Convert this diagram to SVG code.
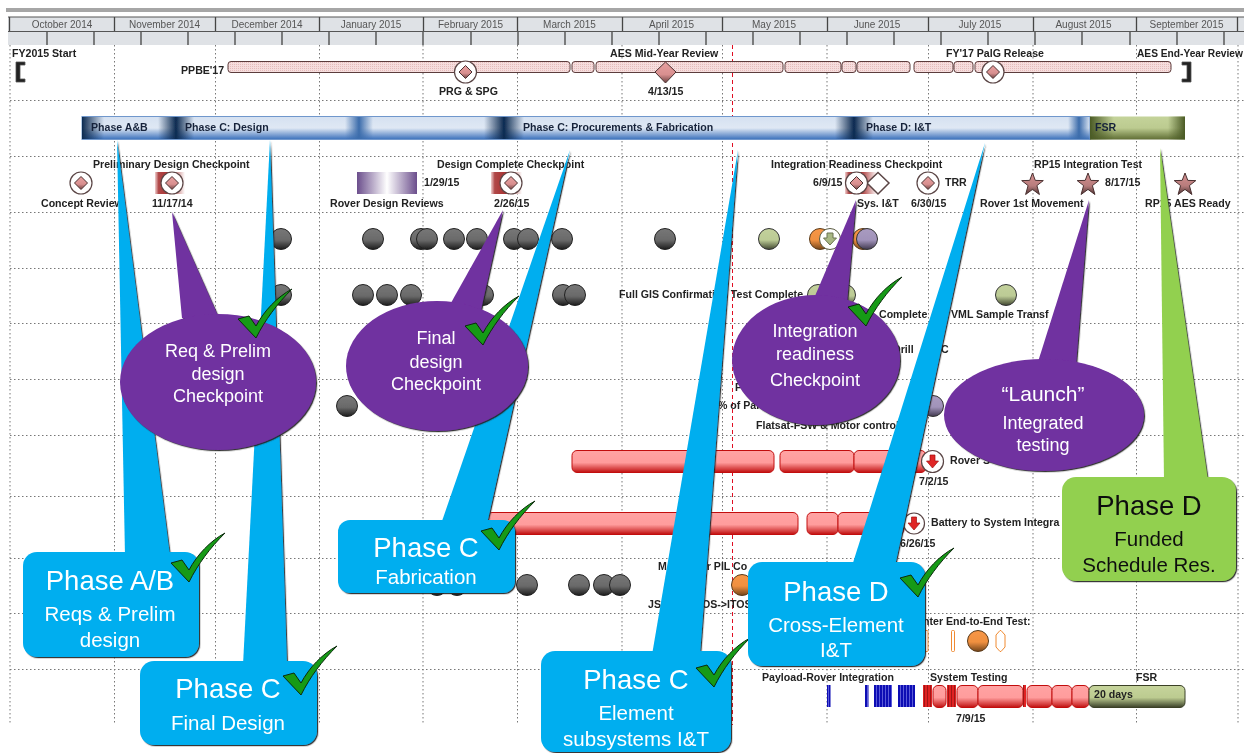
<svg xmlns="http://www.w3.org/2000/svg" width="1244" height="753" viewBox="0 0 1244 753">
<style>
text{font-family:"Liberation Sans",Arial,sans-serif}
.l{font-size:10.6px;font-weight:700;fill:#222}
.m{font-size:10px;fill:#555;text-anchor:middle}
.p{font-size:10.6px;font-weight:700;fill:#16233a}
.w{fill:#fff;text-anchor:middle}
.k{fill:#111;text-anchor:middle}
.t1{font-size:27.500px}
.t2{font-size:20.500px}
.t3{font-size:18px}
.grid{stroke:#777;stroke-width:1;stroke-dasharray:1.5 2.5;fill:none}
.blue{fill:#00aeef}
.pur{fill:#7030a0}
.grn{fill:#92d050}
.sh{filter:url(#sh)}
.red{fill:url(#gr);stroke:#c21010;stroke-width:1}
.chk{fill:#149a17;stroke:#0b2b0b;stroke-width:1}
.ds{fill:url(#gd);stroke:#4a3030;stroke-width:1}
.ring{fill:#fff;stroke:#5a4545;stroke-width:1.2}
.ppb{fill:url(#pp);stroke:#5c3c3c;stroke-width:1}
.star{fill:url(#gs);stroke:#4a3030;stroke-width:1}
</style>
<defs>
<filter id="soft" x="0" y="0" width="100%" height="100%"><feGaussianBlur stdDeviation="0.35"/></filter>
<filter id="sh" x="-10%" y="-10%" width="125%" height="125%"><feDropShadow dx="1.2" dy="1.2" stdDeviation="0.5" flood-color="#222" flood-opacity="0.9"/></filter>
<linearGradient id="gg" x1="0" y1="0" x2="0" y2="1"><stop offset="0" stop-color="#777"/><stop offset=".55" stop-color="#6a6a6a"/><stop offset="1" stop-color="#1c1c1c"/></linearGradient>
<linearGradient id="gv" x1="0" y1="0" x2="0" y2="1"><stop offset="0" stop-color="#c3d19c"/><stop offset=".55" stop-color="#bccb95"/><stop offset="1" stop-color="#3f4630"/></linearGradient>
<linearGradient id="go" x1="0" y1="0" x2="0" y2="1"><stop offset="0" stop-color="#f79646"/><stop offset=".55" stop-color="#f09040"/><stop offset="1" stop-color="#74451c"/></linearGradient>
<linearGradient id="gp" x1="0" y1="0" x2="0" y2="1"><stop offset="0" stop-color="#a99bc0"/><stop offset=".55" stop-color="#a193ba"/><stop offset="1" stop-color="#40384e"/></linearGradient>
<linearGradient id="gr" x1="0" y1="0" x2="0" y2="1"><stop offset="0" stop-color="#ffa3a3"/><stop offset=".55" stop-color="#ff9c9c"/><stop offset="1" stop-color="#c01010"/></linearGradient>
<linearGradient id="gd" x1="0" y1="0" x2="0" y2="1"><stop offset="0" stop-color="#e8a0a0"/><stop offset=".6" stop-color="#d88f8f"/><stop offset="1" stop-color="#6a4040"/></linearGradient>
<linearGradient id="gs" x1="0" y1="0" x2="0" y2="1"><stop offset="0" stop-color="#d49090"/><stop offset=".6" stop-color="#b87c7c"/><stop offset="1" stop-color="#4c3232"/></linearGradient>
<linearGradient id="gb" x1="0" y1="0" x2="0" y2="1"><stop offset="0" stop-color="#d5e1f1"/><stop offset=".5" stop-color="#dfe8f4"/><stop offset="1" stop-color="#3a70bb"/></linearGradient>
<linearGradient id="gfsr" x1="0" y1="0" x2="0" y2="1"><stop offset="0" stop-color="#c4d39a"/><stop offset=".5" stop-color="#bccb90"/><stop offset="1" stop-color="#5f6e34"/></linearGradient>
<linearGradient id="g20" x1="0" y1="0" x2="0" y2="1"><stop offset="0" stop-color="#c6d49c"/><stop offset=".55" stop-color="#bccb90"/><stop offset="1" stop-color="#3a4028"/></linearGradient>
<linearGradient id="seam"><stop offset="0" stop-color="#0c2a50" stop-opacity="0"/><stop offset=".5" stop-color="#0c2a50"/><stop offset="1" stop-color="#0c2a50" stop-opacity="0"/></linearGradient>
<linearGradient id="seaml"><stop offset="0" stop-color="#3c6cab" stop-opacity="0"/><stop offset=".5" stop-color="#3c6cab"/><stop offset="1" stop-color="#3c6cab" stop-opacity="0"/></linearGradient>
<linearGradient id="start"><stop offset="0" stop-color="#0c2a50"/><stop offset="1" stop-color="#0c2a50" stop-opacity="0"/></linearGradient>
<linearGradient id="gfl"><stop offset="0" stop-color="#4a5a25"/><stop offset=".25" stop-color="#4a5a25" stop-opacity="0"/><stop offset=".82" stop-color="#4a5a25" stop-opacity="0"/><stop offset="1" stop-color="#4a5a25"/></linearGradient>
<linearGradient id="gpr"><stop offset="0" stop-color="#6b4e8c"/><stop offset=".5" stop-color="#fff"/><stop offset="1" stop-color="#6b4e8c"/></linearGradient>
<linearGradient id="grd"><stop offset="0" stop-color="#f0d0d0"/><stop offset=".12" stop-color="#b04848"/><stop offset=".5" stop-color="#a83030"/><stop offset="1" stop-color="#fff"/></linearGradient>
<pattern id="pp" width="2" height="2" patternUnits="userSpaceOnUse"><rect width="2" height="2" fill="#f6dede"/><rect width="1" height="1" fill="#e6bcbc"/></pattern>
<pattern id="bs" width="3" height="4" patternUnits="userSpaceOnUse"><rect width="3" height="4" fill="#0a0ab4"/><rect width="1" height="4" fill="#5a5ad8"/></pattern>
<pattern id="rs" width="3" height="4" patternUnits="userSpaceOnUse"><rect width="3" height="4" fill="#e02020"/><rect width="1" height="4" fill="#a01414"/></pattern>
<circle id="bg" r="10.5" fill="url(#gg)" stroke="#222"/>
<circle id="bv" r="10.5" fill="url(#gv)" stroke="#333"/>
<circle id="bo" r="10.5" fill="url(#go)" stroke="#5a3a1a"/>
<circle id="bp" r="10.5" fill="url(#gp)" stroke="#333"/>
<g id="cd"><circle r="11" class="ring"/><path d="M0-6.5 6.5 0 0 6.5-6.5 0Z" class="ds"/></g>
<path id="st" d="M0-11 2.8-3.6 10.8-3.4 4.4 1.6 6.9 10.5 0 5.4-6.9 10.5-4.4 1.6-10.8-3.4-2.8-3.6Z" class="star"/>
<path id="ck" d="M-17-19-6-22 1-12C9-27 22-41 37-49 22-34 10-18 1 0Z" class="chk"/>
</defs>

<g filter="url(#soft)">
<rect width="1244" height="753" fill="#fff"/>
<g id="header">
<rect x="6" y="8" width="1238" height="4" fill="#a6a6a6"/>
<rect x="8" y="17" width="1236" height="28" fill="#dfe2e6"/>
<path d="M8 17H1244M8 31.500H1244" stroke="#555" stroke-width="1" fill="none"/>
<path d="M9.500 17V31M114.500 17V31M215.500 17V31M319.500 17V31M423.500 17V31M517.500 17V31M622.500 17V31M722.500 17V31M827.500 17V31M928.500 17V31M1033.500 17V31M1136.500 17V31M1237.500 17V31" stroke="#444" stroke-width="1.300"/>
<path d="M47 32V45M94 32V45M141 32V45M188 32V45M235 32V45M282 32V45M329 32V45M376 32V45M423 32V45M471 32V45M518 32V45M565 32V45M612 32V45M659 32V45M706 32V45M753 32V45M800 32V45M847 32V45M894 32V45M941 32V45M988 32V45M1035 32V45M1082 32V45M1130 32V45M1177 32V45M1224 32V45" stroke="#444" stroke-width="1.300"/>
<text class="m" x="62" y="28">October 2014</text>
<text class="m" x="164.500" y="28">November 2014</text>
<text class="m" x="267" y="28">December 2014</text>
<text class="m" x="371" y="28">January 2015</text>
<text class="m" x="470.500" y="28">February 2015</text>
<text class="m" x="569.500" y="28">March 2015</text>
<text class="m" x="671.500" y="28">April 2015</text>
<text class="m" x="774" y="28">May 2015</text>
<text class="m" x="877" y="28">June 2015</text>
<text class="m" x="980" y="28">July 2015</text>
<text class="m" x="1083.500" y="28">August 2015</text>
<text class="m" x="1186.500" y="28">September 2015</text>
</g>
<g id="grid">
<path class="grid" d="M10 45V725M114.500 45V725M215.500 45V725M319.500 45V725M423 45V725M517.500 45V725M622 45V725M722.500 45V725M827 45V725M928.500 45V725M1033 45V725M1136.500 45V725M1238 45V725"/>
<path class="grid" d="M10 100.500H1244M10 156.500H1244M10 212.500H1244M10 268.500H1244M10 323.500H1244M10 379.500H1244M10 435.500H1244M10 496.500H1244M10 558.500H1244M10 613.500H1244M10 669.500H1244"/>
<path d="M732.500 45V725" stroke="#e01020" stroke-width="1" stroke-dasharray="4 3" fill="none"/>
</g>

<g id="track-top">
<path d="M25 62H16V82H25V79H20V65H25Z" fill="#222" stroke="#555" stroke-width=".8"/>
<path d="M1182 62H1191V82H1182V79H1187V65H1182Z" fill="#222" stroke="#555" stroke-width=".8"/>
<rect class="ppb" x="228" y="61.500" width="342" height="11" rx="3"/>
<rect class="ppb" x="572" y="61.500" width="22" height="11" rx="3"/>
<rect class="ppb" x="596" y="61.500" width="187" height="11" rx="3"/>
<rect class="ppb" x="785" y="61.500" width="56" height="11" rx="3"/>
<rect class="ppb" x="842" y="61.500" width="14" height="11" rx="3"/>
<rect class="ppb" x="857" y="61.500" width="53" height="11" rx="3"/>
<rect class="ppb" x="914" y="61.500" width="39" height="11" rx="3"/>
<rect class="ppb" x="954" y="61.500" width="19" height="11" rx="3"/>
<rect class="ppb" x="975" y="61.500" width="196" height="11" rx="3"/>
<use href="#cd" x="465.500" y="72"/>
<use href="#cd" x="993" y="72"/>
<path d="M665.500 62 676 72 665.500 83 655 72Z" class="ds"/>
<text class="l" x="12" y="57">FY2015 Start</text>
<text class="l" x="181" y="74">PPBE'17</text>
<text class="l" x="610" y="57">AES Mid-Year Review</text>
<text class="l" x="946" y="57">FY'17 PalG Release</text>
<text class="l" x="1137" y="57" font-size="10.200" style="font-size:10.200px">AES End-Year Review</text>
<text class="l" x="439" y="95">PRG &amp; SPG</text>
<text class="l" x="648" y="95">4/13/15</text>
</g>

<g id="phase-bar">
<rect x="82" y="116.500" width="1008" height="23" fill="url(#gb)" stroke="#6f97cc" stroke-width="1"/>
<rect x="82" y="117" width="22" height="22" fill="url(#start)"/>
<rect x="158" y="117" width="36" height="22" fill="url(#seam)"/>
<rect x="345" y="117" width="28" height="22" fill="url(#seaml)"/>
<rect x="484" y="117" width="40" height="22" fill="url(#seam)"/>
<rect x="835" y="117" width="38" height="22" fill="url(#seam)"/>
<rect x="1068" y="117" width="22" height="22" fill="url(#seaml)"/>
<rect x="1090" y="116.500" width="95" height="23" fill="url(#gfsr)"/>
<rect x="1090" y="116.500" width="95" height="23" fill="url(#gfl)"/>
<text class="p" x="91" y="131">Phase A&amp;B</text>
<text class="p" x="185" y="131">Phase C: Design</text>
<text class="p" x="523" y="131">Phase C: Procurements &amp; Fabrication</text>
<text class="p" x="866" y="131">Phase D: I&amp;T</text>
<text class="p" x="1095" y="131">FSR</text>
</g>

<g id="milestones">
<rect x="155" y="172" width="30" height="22" fill="url(#grd)"/>
<rect x="491" y="172" width="31" height="22" fill="url(#grd)"/>
<rect x="845" y="172" width="32" height="22" fill="url(#grd)"/>
<rect x="357" y="172" width="60" height="22" fill="url(#gpr)"/>
<use href="#cd" x="81" y="183"/>
<use href="#cd" x="172" y="183"/>
<use href="#cd" x="511" y="183"/>
<path d="M878 172.500 889 183 878 194 867 183Z" fill="#fff" stroke="#5a4545" stroke-width="1.500"/>
<use href="#cd" x="856.500" y="183"/>
<use href="#cd" x="928" y="183"/>
<use href="#st" x="1032.500" y="184"/>
<use href="#st" x="1088" y="184"/>
<use href="#st" x="1185" y="184"/>
<text class="l" x="93" y="168">Preliminary Design Checkpoint</text>
<text class="l" x="437" y="168">Design Complete Checkpoint</text>
<text class="l" x="771" y="168">Integration Readiness Checkpoint</text>
<text class="l" x="1034" y="168">RP15 Integration Test</text>
<text class="l" x="41" y="207">Concept Review</text>
<text class="l" x="152" y="207">11/17/14</text>
<text class="l" x="330" y="207">Rover Design Reviews</text>
<text class="l" x="424" y="186">1/29/15</text>
<text class="l" x="494" y="207">2/26/15</text>
<text class="l" x="813" y="186">6/9/15</text>
<text class="l" x="857" y="207">Sys. I&amp;T</text>
<text class="l" x="911" y="207">6/30/15</text>
<text class="l" x="945" y="186">TRR</text>
<text class="l" x="980" y="207">Rover 1st Movement</text>
<text class="l" x="1105" y="186">8/17/15</text>
<text class="l" x="1145" y="207">RP15 AES Ready</text>
</g>

<g id="ball-rows">
<use href="#bg" x="281" y="239"/><use href="#bg" x="373" y="239"/><use href="#bg" x="421" y="239"/><use href="#bg" x="427" y="239"/><use href="#bg" x="454" y="239"/><use href="#bg" x="477" y="239"/><use href="#bg" x="514" y="239"/><use href="#bg" x="528" y="239"/><use href="#bg" x="562" y="239"/><use href="#bg" x="665" y="239"/>
<use href="#bv" x="769" y="239"/><use href="#bo" x="820" y="239"/>
<circle cx="830" cy="239" r="10.500" fill="#fff" stroke="#5a5a40"/>
<path d="M827 233H833V238H836.500L830 245 823.500 238H827Z" fill="#a9b884" stroke="#6a7350"/>
<use href="#bo" x="863" y="239"/><use href="#bp" x="867" y="239"/>
<use href="#bg" x="281" y="295"/><use href="#bg" x="363" y="295"/><use href="#bg" x="387" y="295"/><use href="#bg" x="411" y="295"/><use href="#bg" x="483" y="295"/><use href="#bg" x="563" y="295"/><use href="#bg" x="575" y="295"/>
<use href="#bv" x="818" y="295"/><use href="#bv" x="845" y="295"/><use href="#bv" x="1006" y="295"/>
<use href="#bg" x="347" y="406"/><use href="#bp" x="933" y="406"/>
<text class="l" x="619" y="298">Full GIS Confirmation Test Complete</text>
<text class="l" x="879" y="318">Complete</text>
<text class="l" x="951" y="318">VML Sample Transf</text>
<text class="l" x="893" y="353">Drill</text>
<text class="l" x="941" y="353">C</text>
<text class="l" x="735" y="391">F</text>
<text class="l" x="718" y="409">% of Par</text>
<text class="l" x="756" y="429">Flatsat-FSW &amp; Motor control</text>
</g>

<g id="red-rows">
<rect class="red" x="572" y="450.500" width="202" height="22" rx="5"/>
<rect class="red" x="780" y="450.500" width="74" height="22" rx="5"/>
<rect class="red" x="854" y="450.500" width="72" height="22" rx="5"/>
<circle cx="932.500" cy="461.500" r="11" class="ring"/>
<path d="M930 455H935V461H938.500L932.500 468 926.500 461H930Z" fill="#e02828" stroke="#a01010" stroke-width=".7"/>
<text class="l" x="950" y="464">Rover S</text>
<text class="l" x="919" y="485">7/2/15</text>
<rect class="red" x="487" y="512.500" width="311" height="22" rx="5"/>
<rect class="red" x="807" y="512.500" width="31" height="22" rx="5"/>
<rect class="red" x="838" y="512.500" width="66" height="22" rx="5"/>
<circle cx="914" cy="523.500" r="10.500" class="ring"/>
<path d="M911.500 517H916.500V523H920L914 530 908 523H911.500Z" fill="#e02828" stroke="#a01010" stroke-width=".7"/>
<text class="l" x="931" y="526">Battery to System Integra</text>
<text class="l" x="900" y="547">6/26/15</text>
</g>

<g id="lower-rows">
<use href="#bg" x="437" y="585"/><use href="#bg" x="457" y="585"/><use href="#bg" x="527" y="585"/><use href="#bg" x="579" y="585"/><use href="#bg" x="604" y="585"/><use href="#bg" x="620" y="585"/>
<use href="#bo" x="742" y="585"/>
<text class="l" x="658" y="570">M</text>
<text class="l" x="695" y="570">ver PIL Co</text>
<text class="l" x="648" y="608">JS</text>
<text class="l" x="702" y="608">OS-&gt;ITOS</text>
<text class="l" x="923" y="625">nter End-to-End Test:</text>
<rect x="925" y="630.500" width="3" height="21" rx="1" fill="#fff" stroke="#f08a30"/>
<rect x="951.500" y="630.500" width="3" height="21" rx="1" fill="#fff" stroke="#f08a30"/>
<use href="#bo" x="978" y="641"/>
<path d="M996 635 1000 630.500H1001L1005 635V647L1001 651.500H1000L996 647Z" fill="#fff" stroke="#f08a30"/>
<text class="l" x="762" y="681">Payload-Rover Integration</text>
<text class="l" x="930" y="681">System Testing</text>
<text class="l" x="1136" y="681">FSR</text>
<text class="l" x="956" y="722">7/9/15</text>
<rect x="827" y="685" width="3.500" height="22" fill="url(#bs)"/>
<rect x="865" y="685" width="3.500" height="22" fill="url(#bs)"/>
<rect x="874" y="685" width="18" height="22" fill="url(#bs)"/>
<rect x="898" y="685" width="17" height="22" fill="url(#bs)"/>
<rect x="923" y="685" width="9" height="22" fill="url(#rs)"/>
<rect class="red" x="933" y="685.500" width="13" height="22" rx="5"/>
<rect x="947" y="685" width="9" height="22" fill="url(#rs)"/>
<rect class="red" x="957" y="685.500" width="21" height="22" rx="5"/>
<rect class="red" x="978" y="685.500" width="45" height="22" rx="5"/>
<rect x="1023" y="685" width="3" height="22" fill="url(#rs)"/>
<rect class="red" x="1027" y="685.500" width="25" height="22" rx="5"/>
<rect class="red" x="1052" y="685.500" width="20" height="22" rx="5"/>
<rect class="red" x="1072" y="685.500" width="17" height="22" rx="5"/>
<rect x="1089" y="685.500" width="96" height="22" rx="5" fill="url(#g20)" stroke="#3a4028"/>
<text class="l" x="1094" y="698">20 days</text>
</g>

<g id="connectors">
<path class="blue sh" d="M117 140 170 556H125Z"/>
<path class="blue sh" d="M270 140 287 665H243Z"/>
<path class="blue sh" d="M570 150 487 524H441Z"/>
<path class="blue sh" d="M738 150 700 655H652Z"/>
<path class="blue sh" d="M985 143 895 566H852Z"/>
<path class="grn sh" d="M1160 148 1208 481H1164Z"/>
<path class="pur sh" d="M172 212 219 318H182Z"/>
<path class="pur sh" d="M503 210 481 310H447Z"/>
<path class="pur sh" d="M856 200 847 303H812Z"/>
<path class="pur sh" d="M1089 200 1076 365H1037Z"/>
</g>

<g id="phase-ab"><rect class="blue sh" x="23" y="552" width="176" height="105" rx="14"/>
<text class="w t1" x="110" y="590">Phase A/B</text><text class="w t2" x="110" y="621">Reqs &amp; Prelim</text><text class="w t2" x="110" y="647">design</text><use href="#ck" x="188" y="582"/></g>
<g id="phase-c-final"><rect class="blue sh" x="140" y="661" width="177" height="84" rx="14"/>
<text class="w t1" x="228" y="698">Phase C</text><text class="w t2" x="228" y="730">Final Design</text><use href="#ck" x="300" y="695"/></g>
<g id="phase-c-fab"><rect class="blue sh" x="338" y="520" width="177" height="73" rx="12"/>
<text class="w t1" x="426" y="557">Phase C</text><text class="w t2" x="426" y="584">Fabrication</text><use href="#ck" x="498" y="550"/></g>
<g id="phase-c-element"><rect class="blue sh" x="541" y="651" width="190" height="101" rx="14"/>
<text class="w t1" x="636" y="689">Phase C</text><text class="w t2" x="636" y="720">Element</text><text class="w t2" x="636" y="746">subsystems I&amp;T</text><use href="#ck" x="713" y="687"/></g>
<g id="phase-d"><rect class="blue sh" x="748" y="562" width="177" height="104" rx="14"/>
<text class="w t1" x="836" y="601">Phase D</text><text class="w t2" x="836" y="632">Cross-Element</text><text class="w t2" x="836" y="657">I&amp;T</text><use href="#ck" x="917" y="597"/></g>
<g id="phase-d-reserve"><rect class="grn sh" x="1062" y="477" width="174" height="104" rx="14"/>
<text class="k t1" x="1149" y="515">Phase D</text><text class="k t2" x="1149" y="546">Funded</text><text class="k t2" x="1149" y="572">Schedule Res.</text></g>
<g id="check-req"><ellipse class="pur sh" cx="218" cy="382" rx="98" ry="68"/>
<text class="w t3" x="218" y="357">Req &amp; Prelim</text><text class="w t3" x="218" y="380">design</text><text class="w t3" x="218" y="402">Checkpoint</text><use href="#ck" x="255" y="338"/></g>
<g id="check-final"><ellipse class="pur sh" cx="437" cy="366" rx="91" ry="65"/>
<text class="w t3" x="436" y="344">Final</text><text class="w t3" x="436" y="368">design</text><text class="w t3" x="436" y="390">Checkpoint</text><use href="#ck" x="482" y="345"/></g>
<g id="check-integration"><ellipse class="pur sh" cx="816" cy="360" rx="84" ry="65"/>
<text class="w t3" x="815" y="337">Integration</text><text class="w t3" x="815" y="360">readiness</text><text class="w t3" x="815" y="386">Checkpoint</text><use href="#ck" x="865" y="326"/></g>
<g id="launch"><ellipse class="pur sh" cx="1044" cy="415" rx="100" ry="56"/>
<text class="w" font-size="21" x="1043" y="401">“Launch”</text><text class="w t3" x="1043" y="429">Integrated</text><text class="w t3" x="1043" y="451">testing</text></g>
</g>
</svg>
